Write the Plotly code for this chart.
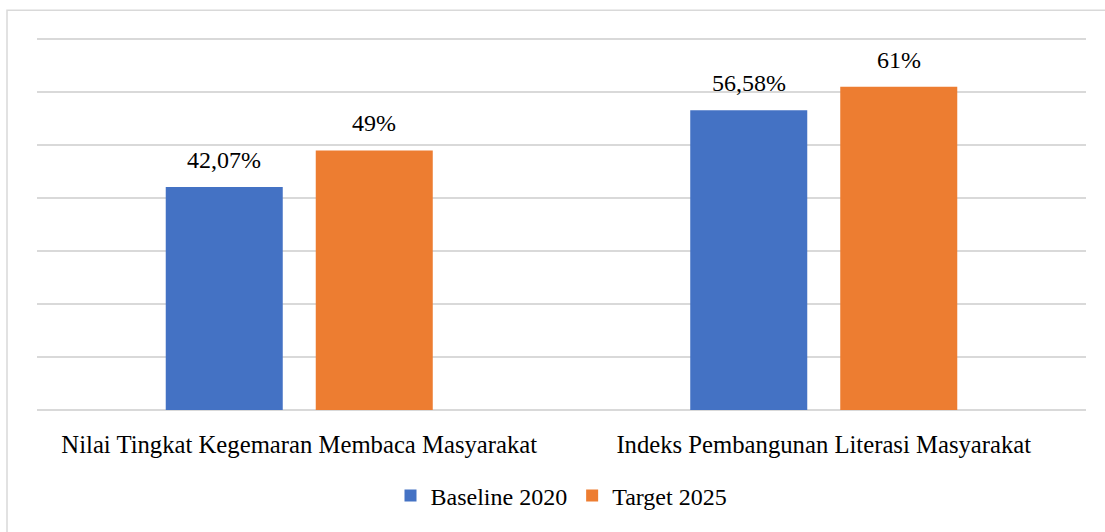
import plotly.graph_objects as go

categories = ["Nilai Tingkat Kegemaran Membaca Masyarakat", "Indeks Pembangunan Literasi Masyarakat"]
baseline_2020 = [42.07, 56.58]
target_2025 = [49, 61]
baseline_labels = ["42,07%", "56,58%"]
target_labels = ["49%", "61%"]

FONT = "Liberation Serif"

fig = go.Figure()
fig.add_trace(go.Bar(name="Baseline 2020", x=categories, y=baseline_2020,
                     marker_color="#4472C4"))
fig.add_trace(go.Bar(name="Target 2025", x=categories, y=target_2025,
                     marker_color="#ED7D31"))
fig.update_traces(marker_line_width=0)

# value labels above bars (shifted to the bar slots of the grouped layout)
for cat, v, lab in zip(categories, baseline_2020, baseline_labels):
    fig.add_annotation(x=cat, y=v, text=lab, xref="x", yref="y", showarrow=False,
                       xanchor="center", yanchor="bottom", xshift=-75, yshift=12,
                       font=dict(family=FONT, size=24, color="#000000"))
for cat, v, lab in zip(categories, target_2025, target_labels):
    fig.add_annotation(x=cat, y=v, text=lab, xref="x", yref="y", showarrow=False,
                       xanchor="center", yanchor="bottom", xshift=75, yshift=12,
                       font=dict(family=FONT, size=24, color="#000000"))

fig.update_layout(
    width=1105, height=532,
    margin=dict(l=37, r=19, t=37, b=122, autoexpand=False),
    paper_bgcolor="white", plot_bgcolor="white",
    barmode="group", bargap=0.428, bargroupgap=0.22,
    font=dict(family=FONT, size=24, color="#000000"),
    showlegend=True,
    legend=dict(orientation="h", x=0.5, xanchor="center", y=-0.23, yanchor="middle",
                font=dict(family=FONT, size=24), itemwidth=30, tracegroupgap=0),
    xaxis=dict(showgrid=False, showline=False, zeroline=False, automargin=False,
               ticks="outside", ticklen=12, tickcolor="rgba(0,0,0,0)",
               tickfont=dict(family=FONT, size=24.7)),
    yaxis=dict(range=[0, 70.4], dtick=10, showgrid=True, gridcolor="#d9d9d9", gridwidth=1.5,
               showticklabels=False, zeroline=True, zerolinecolor="#d9d9d9", zerolinewidth=1.5,
               showline=False, automargin=False),
)

fig.add_shape(type="rect", xref="paper", yref="paper",
              x0=-0.0286, x1=1.1, y0=-0.5, y1=1.072,
              line=dict(color="#d9d9d9", width=1.5), fillcolor="rgba(0,0,0,0)", layer="below")

fig.write_html("out.html", config={"displayModeBar": False},
               post_script="document.body.style.margin='0';document.body.style.padding='0';")
